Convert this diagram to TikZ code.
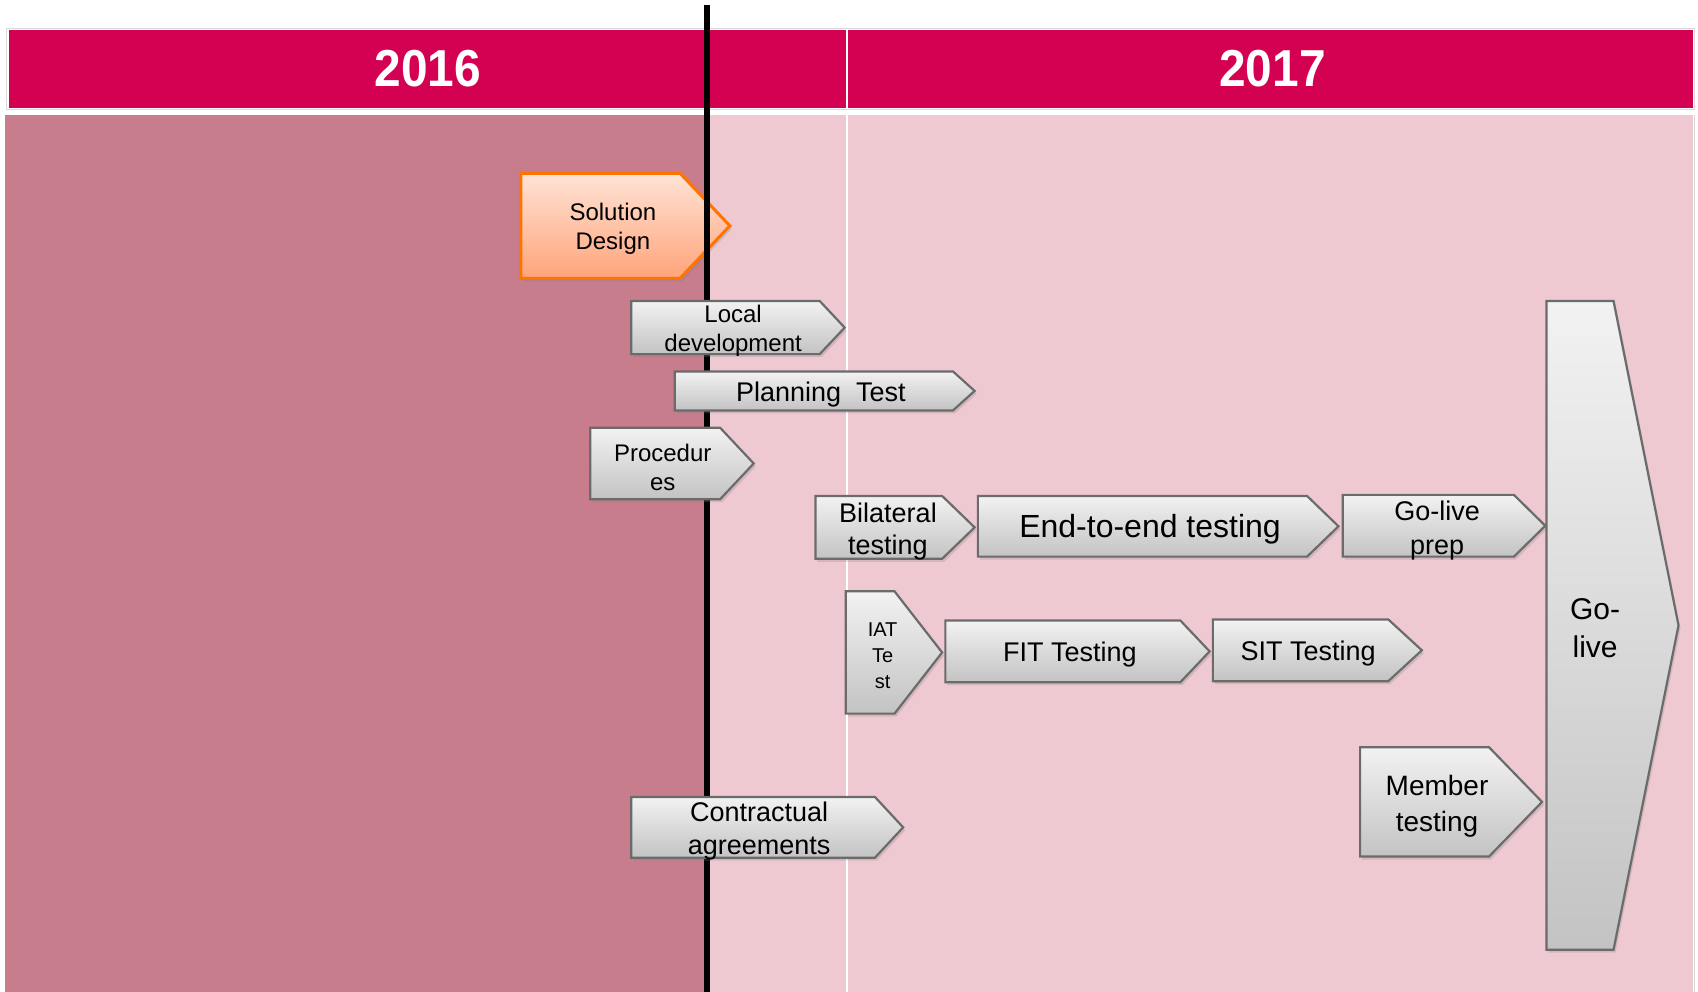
\documentclass[tikz,border=0pt]{standalone}
\usepackage{fontspec}
\setmainfont{Liberation Sans}
\usetikzlibrary{shadows}
\definecolor{hdr}{HTML}{D40052}
\definecolor{darkbody}{HTML}{C77D8C}
\definecolor{lightbody}{HTML}{EFC9D1}
\definecolor{gtop}{HTML}{F2F2F2}
\definecolor{gbot}{HTML}{C3C3C3}
\definecolor{gline}{HTML}{6B6B6B}
\definecolor{otop}{HTML}{FFE3D6}
\definecolor{obot}{HTML}{FFA47A}
\definecolor{oline}{HTML}{FF7400}
\definecolor{frame}{HTML}{DADADA}
\newcommand\chev[6]{\path[#6] (#1,#2) -- (#3,#2) -- (#4,{(#2+#5)/2}) -- (#3,#5) -- (#1,#5) -- cycle;}
\begin{document}
\begin{tikzpicture}[x=1.0829pt,y=-1.0829pt,
  graybox/.style={draw=gline, line width=2.2pt, top color=gtop, bottom color=gbot,
    drop shadow={shadow xshift=2pt, shadow yshift=-3pt, opacity=0.25}},
  orangebox/.style={draw=oline, line width=3pt, top color=otop, bottom color=obot,
    drop shadow={shadow xshift=2pt, shadow yshift=-3pt, opacity=0.25}},
  lbl/.style={align=center, inner sep=0pt, text=black, yshift=-3pt},
  year/.style={text=white, font=\fontsize{52}{52}\selectfont\bfseries, xscale=0.92, transform shape, inner sep=0pt}]
\useasboundingbox (0,0) rectangle (1568,916);
\fill[white] (0,0) rectangle (1568,916);
% header
\draw[frame, line width=1pt] (6,26) rectangle (1565,101);
\fill[hdr] (8,28) rectangle (1563,99.5);
\draw[white, line width=2pt] (782,28) -- (782,99.5);
\node[year] (y16) at (395,63) {2016};
\node[year] (y17) at (1175,63) {2017};
% body
\fill[darkbody] (5,106) rectangle (653,916);
\fill[lightbody] (653,106) rectangle (1563,916);
\draw[frame, line width=1pt] (1565,106) -- (1565,916);
\draw[white, line width=2.2pt] (782,106) -- (782,916);
% solution design (under the black line)
\chev{481}{160}{628}{674}{257}{orangebox}
\node[lbl, font=\fontsize{24}{29}\selectfont] (sol) at (566,208.5) {Solution\\Design};
% black today line
\coordinate (ltop) at (653,5);
\coordinate (lbot) at (653,916);
\draw[black, line width=5.5pt] (ltop) -- (lbot);
% gray chevrons
\chev{583}{278}{757}{780}{327}{graybox}
\node[lbl, font=\fontsize{24}{29}\selectfont] (loc) at (677,303) {Local\\development};
\chev{623}{343}{880}{900}{379}{graybox}
\node[lbl, font=\fontsize{27}{32}\selectfont] (plan) at (758,362) {Planning\ \ Test};
\chev{545}{395}{665}{696}{461}{graybox}
\node[lbl, font=\fontsize{24}{29}\selectfont] (proc) at (612,428.5) {Procedur\\es};
\chev{753}{458}{870}{900}{516}{graybox}
\node[lbl, font=\fontsize{27}{31.5}\selectfont] (bil) at (820,488) {Bilateral\\testing};
\chev{903}{458}{1207}{1236}{514}{graybox}
\node[lbl, font=\fontsize{32}{38}\selectfont] (e2e) at (1062,486) {End-to-end testing};
\chev{1240}{457}{1398}{1427}{514}{graybox}
\node[lbl, font=\fontsize{27}{34}\selectfont] (glp) at (1327,487) {Go-live\\prep};
\chev{781}{546}{826}{870}{659}{graybox}
\node[lbl, font=\fontsize{20}{26}\selectfont] (iat) at (815,603) {IAT\\Te\\st};
\chev{873}{573}{1090}{1117}{630}{graybox}
\node[lbl, font=\fontsize{27}{32}\selectfont] (fit) at (988,602) {FIT Testing};
\chev{1120}{572}{1282}{1313}{629}{graybox}
\node[lbl, font=\fontsize{27}{32}\selectfont] (sit) at (1208,601) {SIT Testing};
\chev{1256}{690}{1375}{1424}{791}{graybox}
\node[lbl, font=\fontsize{28}{36}\selectfont] (mem) at (1327,741.5) {Member\\testing};
\chev{583}{736}{808}{834}{792}{graybox}
\node[lbl, font=\fontsize{27}{33.5}\selectfont] (con) at (701,764.5) {Contractual\\agreements};
\chev{1428}{278}{1490}{1550}{877}{graybox}
\node[lbl, font=\fontsize{30}{38}\selectfont, yshift=2pt] (golive) at (1473,579.5) {Go-\\live};
\end{tikzpicture}
\end{document}
